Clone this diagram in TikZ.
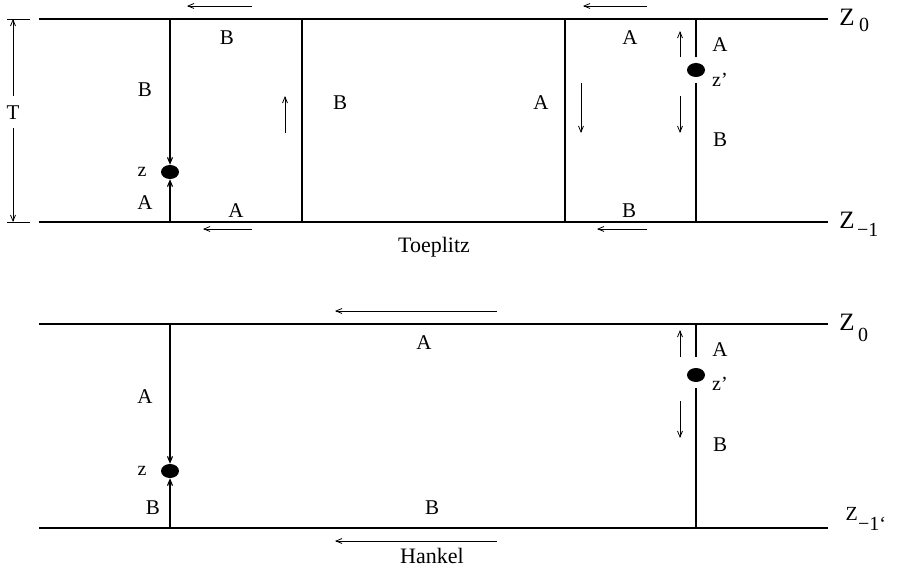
\documentclass[tikz,border=0pt]{standalone}
\usepackage{fontspec}
\setmainfont{Liberation Serif}
\usetikzlibrary{arrows.meta,shapes.geometric}
\begin{document}
\begin{tikzpicture}[x=1pt,y=-1pt,
  hline/.style={line width=1.8pt},
  vline/.style={line width=1.1pt},
  arr/.style={line width=0.8pt,-{Straight Barb[length=6pt,width=5pt]}},
  tickln/.style={line width=0.8pt},
  ball/.style={ellipse,fill=black,inner sep=0pt,minimum width=18pt,minimum height=14pt},
  lbl/.style={inner sep=0pt,font=\fontsize{21}{24}\selectfont},
  zl/.style={inner sep=0pt,font=\fontsize{20}{22}\selectfont},
  captxt/.style={inner sep=0pt,font=\fontsize{22}{26}\selectfont},
  bigz/.style={inner sep=0pt,font=\fontsize{25}{28}\selectfont},
  subtxt/.style={inner sep=0pt,font=\fontsize{20}{24}\selectfont}]
\useasboundingbox (0,0) rectangle (897,575);

% ---------------- Toeplitz ----------------
\coordinate (a0l) at (39,19);  \coordinate (a0r) at (828,19);
\coordinate (a1l) at (39,222); \coordinate (a1r) at (828,222);
\draw[hline] (a0l) -- (a0r);
\draw[hline] (a1l) -- (a1r);

% T dimension
\coordinate (tk0a) at (7,19);  \coordinate (tk0b) at (30,19);
\coordinate (tk1a) at (7,222); \coordinate (tk1b) at (30,222);
\draw[tickln] (tk0a) -- (tk0b);
\draw[tickln] (tk1a) -- (tk1b);
\node[lbl] (T) at (13,113) {T};
\coordinate (Ttop) at (13,19); \coordinate (Tbot) at (13,222);
\coordinate (Tup) at (13,96);  \coordinate (Tdn) at (13,128);
\draw[arr] (Tup) -- (Ttop);
\draw[arr] (Tdn) -- (Tbot);

% vertical at 170 with z
\node[ball] (z1) at (170,172) {};
\coordinate (v1t) at (170,19); \coordinate (v1b) at (170,222);
\draw[vline,-{Straight Barb[length=6pt,width=5pt]}] (v1t) -- (z1.north);
\draw[vline,-{Straight Barb[length=6pt,width=5pt]}] (v1b) -- (z1.south);

% verticals 302, 565
\coordinate (v2t) at (302,19); \coordinate (v2b) at (302,222);
\draw[vline] (v2t) -- (v2b);
\coordinate (v3t) at (565,19); \coordinate (v3b) at (565,222);
\draw[vline] (v3t) -- (v3b);

% vertical 696 with z'
\node[ball] (zp1) at (696,70) {};
\coordinate (v4t) at (696,19); \coordinate (v4a) at (696,57);
\coordinate (v4c) at (696,83); \coordinate (v4b) at (696,222);
\draw[vline] (v4t) -- (v4a);
\draw[vline] (v4c) -- (v4b);

% arrows
\coordinate (p1) at (252,6);   \coordinate (q1) at (187,6);
\coordinate (p2) at (647,6);   \coordinate (q2) at (583,6);
\coordinate (p3) at (252,229); \coordinate (q3) at (203,229);
\coordinate (p4) at (647,229); \coordinate (q4) at (597,229);
\coordinate (p5) at (285,133); \coordinate (q5) at (285,96);
\coordinate (p6) at (581,83);  \coordinate (q6) at (581,133);
\coordinate (p7) at (680,57);  \coordinate (q7) at (680,31);
\coordinate (p8) at (680,96);  \coordinate (q8) at (680,133);
\foreach \i in {1,...,8} {\draw[arr] (p\i) -- (q\i);}

% labels
\node[lbl] (la1) at (227,38) {B};
\node[lbl] (la2) at (145,90) {B};
\node[zl]  (la3) at (142,172) {z};
\node[lbl] (la4) at (145,203) {A};
\node[lbl] (la5) at (236,211) {A};
\node[lbl] (la6) at (340,103) {B};
\node[lbl] (la7) at (541,103) {A};
\node[lbl] (la8) at (630,38) {A};
\node[lbl] (la9) at (720,45) {A};
\node[zl]  (la10) at (720,80) {z’};
\node[lbl] (la11) at (720,140) {B};
\node[lbl] (la12) at (629,211) {B};
\node[bigz] (Z0a) at (847,17) {Z};
\node[subtxt]  (Z0as) at (864,25) {0};
\node[bigz] (Z1a) at (847,220) {Z};
\node[subtxt,anchor=west]  (Z1as) at (857,230) {−1};
\node[captxt] (toep) at (434,247) {Toeplitz};

% ---------------- Hankel ----------------
\coordinate (b0l) at (39,324);  \coordinate (b0r) at (828,324);
\coordinate (b1l) at (39,528);  \coordinate (b1r) at (828,528);
\draw[hline] (b0l) -- (b0r);
\draw[hline] (b1l) -- (b1r);

\node[ball] (z2) at (170,471) {};
\coordinate (w1t) at (170,324); \coordinate (w1b) at (170,528);
\draw[vline,-{Straight Barb[length=6pt,width=5pt]}] (w1t) -- (z2.north);
\draw[vline,-{Straight Barb[length=6pt,width=5pt]}] (w1b) -- (z2.south);

\node[ball] (zp2) at (696,375) {};
\coordinate (w4t) at (696,324); \coordinate (w4a) at (696,357);
\coordinate (w4c) at (696,388); \coordinate (w4b) at (696,528);
\draw[vline] (w4t) -- (w4a);
\draw[vline] (w4c) -- (w4b);

\coordinate (r1) at (497,311); \coordinate (s1) at (335,311);
\coordinate (r2) at (497,541); \coordinate (s2) at (335,541);
\coordinate (r3) at (680,357); \coordinate (s3) at (680,330);
\coordinate (r4) at (680,401); \coordinate (s4) at (680,438);
\foreach \i in {1,...,4} {\draw[arr] (r\i) -- (s\i);}

\node[lbl] (lb1) at (424,343) {A};
\node[lbl] (lb2) at (145,397) {A};
\node[zl]  (lb3) at (142,471) {z};
\node[lbl] (lb4) at (153,508) {B};
\node[lbl] (lb5) at (432,508) {B};
\node[lbl] (lb6) at (720,350) {A};
\node[zl]  (lb7) at (720,384) {z’};
\node[lbl] (lb8) at (720,445) {B};
\node[bigz] (Z0b) at (847,322) {Z};
\node[subtxt]  (Z0bs) at (863,335) {0};
\node[subtxt,anchor=east] (Z1b) at (858,514) {Z};
\node[subtxt,anchor=west] (Z1bs) at (858,524) {−1‘};
\node[captxt] (hank) at (432,556) {Hankel};
\end{tikzpicture}
\end{document}
